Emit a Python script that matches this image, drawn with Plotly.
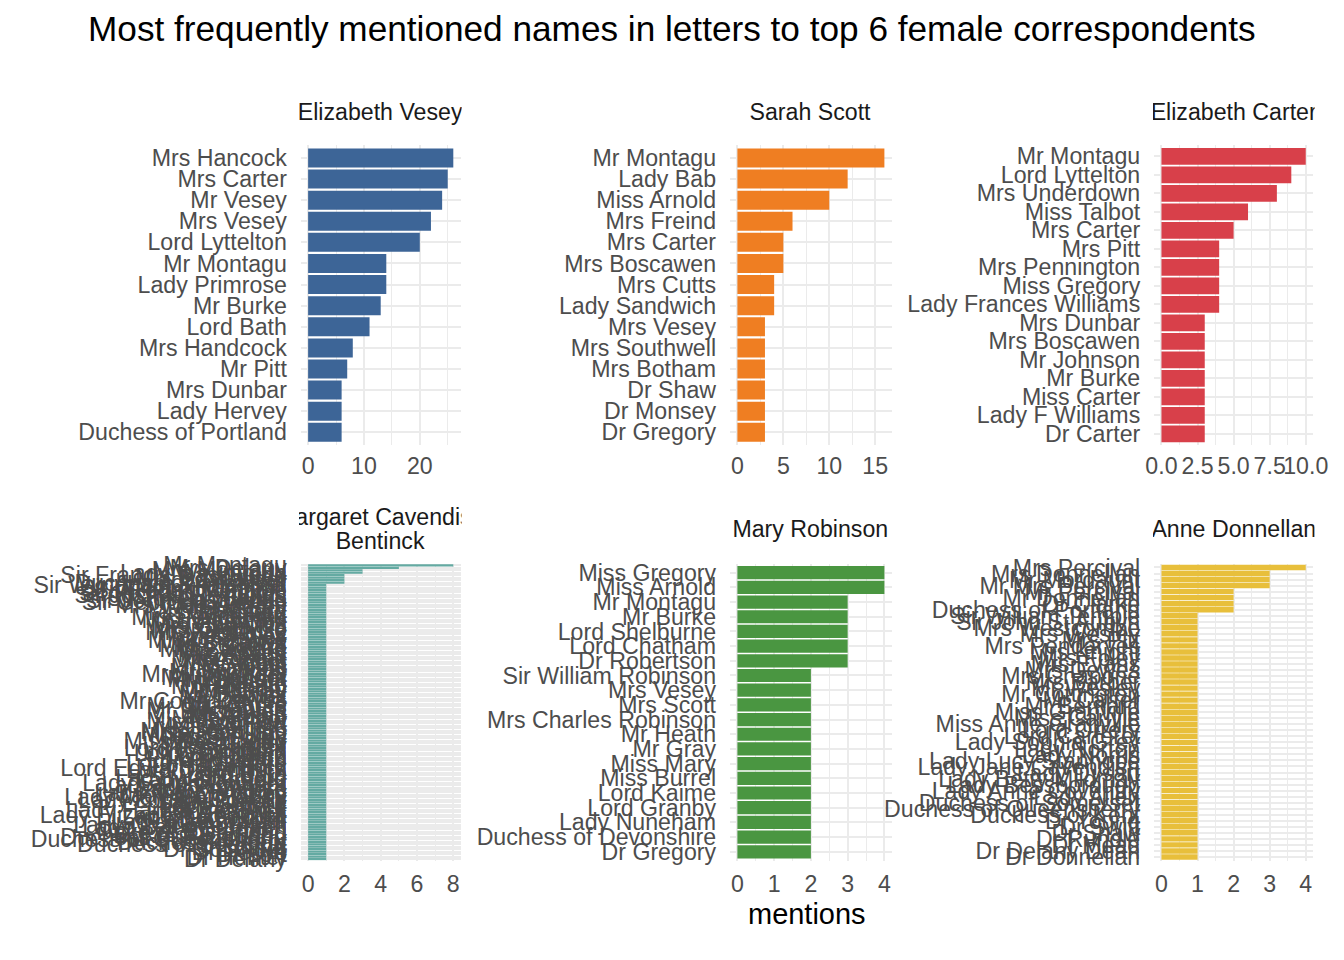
import plotly.graph_objects as go

W, H = 1344, 960
FONT = "Liberation Sans"

# top-to-bottom order as drawn in each panel
vesey_names = ["Mrs Hancock", "Mrs Carter", "Mr Vesey", "Mrs Vesey", "Lord Lyttelton", "Mr Montagu",
               "Lady Primrose", "Mr Burke", "Lord Bath", "Mrs Handcock", "Mr Pitt", "Mrs Dunbar",
               "Lady Hervey", "Duchess of Portland"]
vesey_counts = [26, 25, 24, 22, 20, 14, 14, 13, 11, 8, 7, 6, 6, 6]

scott_names = ["Mr Montagu", "Lady Bab", "Miss Arnold", "Mrs Freind", "Mrs Carter", "Mrs Boscawen",
               "Mrs Cutts", "Lady Sandwich", "Mrs Vesey", "Mrs Southwell", "Mrs Botham", "Dr Shaw",
               "Dr Monsey", "Dr Gregory"]
scott_counts = [16, 12, 10, 6, 5, 5, 4, 4, 3, 3, 3, 3, 3, 3]

carter_names = ["Mr Montagu", "Lord Lyttelton", "Mrs Underdown", "Miss Talbot", "Mrs Carter", "Mrs Pitt",
                "Mrs Pennington", "Miss Gregory", "Lady Frances Williams", "Mrs Dunbar", "Mrs Boscawen",
                "Mr Johnson", "Mr Burke", "Miss Carter", "Lady F Williams", "Dr Carter"]
carter_counts = [10, 9, 8, 6, 5, 4, 4, 4, 4, 3, 3, 3, 3, 3, 3, 3]

bentinck_names = [
    "Mr Montagu", "Mrs Delany", "Mrs Montagu", "Lady Weymouth", "Sir Francis Dashwood", "Mrs Boscawen",
    "Lady Andover", "Duchess of Ancaster",
    "Sir Wyndham Knatchbull", "Sir William Hamilton", "Sir Robert Walpole", "Sir Richard Lyttelton",
    "Sir Joshua Reynolds", "Sir Joseph Banks", "Sir John Dashwood", "Sir George Lyttelton",
    "Mrs Walsingham", "Mrs Vesey", "Mrs Scott", "Mrs Sandford", "Mrs Port", "Mrs Pendarves",
    "Mrs Middleton", "Mrs Lennox", "Mrs Hamilton", "Mrs Granville", "Mrs Glanville", "Mrs Frederick",
    "Mrs Foley", "Mrs Dewes", "Mrs Chapone", "Mrs Carter", "Mrs Burrows", "Mrs Boone", "Mrs Barnard",
    "Mrs Astley", "Mrs Anson", "Mrs Agar", "Mrs Adams", "Mrs Abbot",
    "Mr West", "Mr Walpole", "Mr Viney", "Mr Tomkins", "Mr Stillingfleet", "Mr Solander", "Mr Pennant",
    "Mr Mason", "Mr Keate", "Mr Hogarth", "Mr Handel", "Mr Gray", "Mr Garrick", "Mr Ehret", "Mr Dewes",
    "Mr Court Dewes", "Mr Clarke", "Mr Chambers", "Mr Bruce", "Mr Boscawen", "Mr Arnold", "Mr Anson",
    "Miss Talbot", "Miss Sparrow", "Miss Port", "Miss Pelham", "Miss Mulso", "Miss Jennings",
    "Miss Hamilton", "Miss Gregory", "Miss Foley", "Miss Dashwood", "Miss Carter", "Miss Burney",
    "Lord Weymouth", "Lord Titchfield", "Lord Sandwich", "Lord Oxford", "Lord North", "Lord Lyttelton",
    "Lord Hardwicke", "Lord Guilford", "Lord Edward Bentinck", "Lord Dartmouth", "Lord Bute", "Lord Bath",
    "Lady Wallingford", "Lady Stamford", "Lady Sarah Cowper", "Lady Rockingham", "Lady Primrose",
    "Lady Oxford", "Lady Mary Wortley", "Lady Mary Coke", "Lady Margaret Harley", "Lady Louisa Conolly",
    "Lady Kildare", "Lady Jersey", "Lady Hertford", "Lady Harriet Bentinck", "Lady Gower",
    "Lady Elizabeth Bentinck", "Lady Dartmouth", "Lady Cowper", "Lady Clanbrassill",
    "Lady Charlotte Finch", "Lady Betty Germain", "Lady Anson",
    "Duke of Richmond", "Duke of Portland", "Duchess of Richmond", "Duchess of Queensberry",
    "Duchess of Kent", "Duchess of Beaufort",
    "Dr Young", "Dr Solander", "Dr Pepys", "Dr Lort", "Dr Hunter", "Dr Delany",
]
bentinck_counts = [
    8, 5, 3, 3, 2, 2, 2, 2,
    1, 1, 1, 1, 1, 1, 1, 1,
    1, 1, 1, 1, 1, 1, 1, 1, 1, 1, 1, 1, 1, 1, 1, 1, 1, 1, 1, 1, 1, 1, 1, 1,
    1, 1, 1, 1, 1, 1, 1, 1, 1, 1, 1, 1, 1, 1, 1, 1, 1, 1, 1, 1, 1, 1,
    1, 1, 1, 1, 1, 1, 1, 1, 1, 1, 1, 1,
    1, 1, 1, 1, 1, 1, 1, 1, 1, 1, 1, 1,
    1, 1, 1, 1, 1, 1, 1, 1, 1, 1, 1, 1, 1, 1, 1, 1, 1, 1, 1, 1, 1, 1,
    1, 1, 1, 1, 1, 1,
    1, 1, 1, 1, 1, 1,
]

robinson_names = ["Miss Gregory", "Miss Arnold", "Mr Montagu", "Mr Burke", "Lord Shelburne", "Lord Chatham",
                  "Dr Robertson", "Sir William Robinson", "Mrs Vesey", "Mrs Scott", "Mrs Charles Robinson",
                  "Mr Heath", "Mr Gray", "Miss Mary", "Miss Burrel", "Lord Kaime", "Lord Granby",
                  "Lady Nuneham", "Duchess of Devonshire", "Dr Gregory"]
robinson_counts = [4, 4, 3, 3, 3, 3, 3, 2, 2, 2, 2, 2, 2, 2, 2, 2, 2, 2, 2, 2]

donnellan_names = [
    "Mrs Percival", "Mrs Donnellan", "Mr Mordaunt", "Mr Mrs Percival", "Mr Percival", "Mr Donnellan",
    "Dr Clarke", "Duchess of Portland",
    "Sir William Temple", "Sir John St Aubyn", "Mrs Westcombe", "Mrs Wesley", "Mrs Pitt", "Mrs Pendarves",
    "Mrs Knight", "Mrs Foley", "Mrs Evans", "Mrs Dewes", "Mrs Chapone", "Mrs Barber", "Mr Wesley",
    "Mr Cottington", "Mr Carter", "Mr Bernard", "Miss Granville", "Miss Carlyle", "Miss Anne Granville",
    "Lord Orrery", "Lord Carteret", "Lady Sophia Grey", "Lady Norton", "Lady Norris", "Lady Lucy Stanhope",
    "Lady Jane Cavendish", "Lady Dysart", "Lady Betty Mildmay", "Lady Bessborough", "Lady Anne Coventry",
    "Lady Allen", "Duchess of Somerset", "Duchess of Queensberry", "Duchess of Kent", "Dr Young",
    "Dr Swift", "Dr Shaw", "Dr Rundle", "Dr Mead", "Dr Delany Dean", "Dr Donnellan",
]
donnellan_counts = [
    4, 3, 3, 3, 2, 2, 2, 2,
    1, 1, 1, 1, 1, 1, 1, 1, 1, 1, 1, 1, 1, 1, 1, 1, 1, 1, 1, 1, 1, 1, 1, 1, 1, 1, 1, 1, 1, 1, 1, 1, 1,
    1, 1, 1, 1, 1, 1, 1, 1,
]

# title lines, names, counts, colour, major dtick, minor dtick, tick format
panels = [
    (["Elizabeth Vesey"], vesey_names, vesey_counts, "#3D6597", 10, 5, None),
    (["Sarah Scott"], scott_names, scott_counts, "#EF7E22", 5, 2.5, None),
    (["Elizabeth Carter"], carter_names, carter_counts, "#D8404A", 2.5, 1.25, ".1f"),
    (["Margaret Cavendish", "Bentinck"], bentinck_names, bentinck_counts, "#64AAA2", 2, 1, None),
    (["Mary Robinson"], robinson_names, robinson_counts, "#4A9641", 1, 0.5, None),
    (["Anne Donnellan"], donnellan_names, donnellan_counts, "#E8BF3B", 1, 0.5, None),
]

# the page ends up slightly shrunk and shifted in the screenshot, so positions
# are given in screen pixels and mapped back onto the figure here
AX, BX = 0.984, 15.6
AY, BY = 0.977, 19.6
FS = 0.98


def fx(px):
    return (px - BX) / AX / W


def fy(px):
    return 1 - (px - BY) / AY / H


cols_px = [(300, 460), (730, 892), (1155, 1314)]
rows_px = [(146, 446), (565, 862)]
strip_y = [113, 530]
xlabel_gap = [5, 7]
LINE = 24

fig = go.Figure()
annotations = []
grid = "#EBEBEB"
tick_font = dict(family=FONT, size=22.7 / FS, color="#4D4D4D")

for i, (lines, names, counts, colour, dt, mdt, fmt) in enumerate(panels):
    r, c = divmod(i, 3)
    n = i + 1
    sfx = "" if n == 1 else str(n)
    x0, x1 = cols_px[c]
    y0, y1 = rows_px[r]

    fig.add_trace(go.Bar(
        x=counts, y=names, orientation="h",
        marker=dict(color=colour, line=dict(width=0)),
        xaxis="x" + sfx, yaxis="y" + sfx, showlegend=False,
    ))

    top = max(counts)
    fig.update_layout(**{
        "xaxis" + sfx: dict(
            domain=[fx(x0), fx(x1)], anchor="y" + sfx,
            range=[-0.05 * top, 1.05 * top],
            tick0=0, dtick=dt, tickformat=fmt, tickangle=0,
            showgrid=True, gridcolor=grid, gridwidth=2,
            minor=dict(tick0=0, dtick=mdt, showgrid=True, gridcolor=grid, gridwidth=1),
            zeroline=False, showline=False, ticks="",
            tickfont=tick_font, ticklabelstandoff=xlabel_gap[r],
        ),
        "yaxis" + sfx: dict(
            domain=[fy(y1), fy(y0)], anchor="x" + sfx,
            type="category", categoryorder="array", categoryarray=names[::-1],
            range=[-0.6, len(names) - 0.4],
            tickmode="array", tickvals=names, ticktext=names,
            showgrid=True, gridcolor=grid, gridwidth=2,
            zeroline=False, showline=False, ticks="",
            tickfont=tick_font, ticklabelstandoff=13,
        ),
    })

    first = strip_y[r] - (len(lines) - 1) * LINE / 2
    for k, line in enumerate(lines):
        annotations.append(dict(
            text=line, x=(fx(x0) + fx(x1)) / 2, y=fy(first + k * LINE),
            xref="paper", yref="paper", xanchor="center", yanchor="middle",
            width=(x1 - x0) / AX, showarrow=False, align="center",
            font=dict(family=FONT, size=22.7 / FS, color="#1A1A1A"),
        ))

annotations.append(dict(
    text="Most frequently mentioned names in letters to top 6 female correspondents",
    x=fx(672), y=fy(29), xref="paper", yref="paper", xanchor="center", yanchor="middle",
    showarrow=False, font=dict(family=FONT, size=34.5 / FS, color="#000000"),
))
annotations.append(dict(
    text="mentions", x=fx(807), y=fy(915), xref="paper", yref="paper",
    xanchor="center", yanchor="middle", showarrow=False,
    font=dict(family=FONT, size=28.4 / FS, color="#000000"),
))

fig.update_layout(
    width=W, height=H,
    margin=dict(l=0, r=0, t=0, b=0),
    paper_bgcolor="white", plot_bgcolor="white",
    bargap=0.1,
    annotations=annotations,
    font=dict(family=FONT),
)

fig.write_html("out.html")
